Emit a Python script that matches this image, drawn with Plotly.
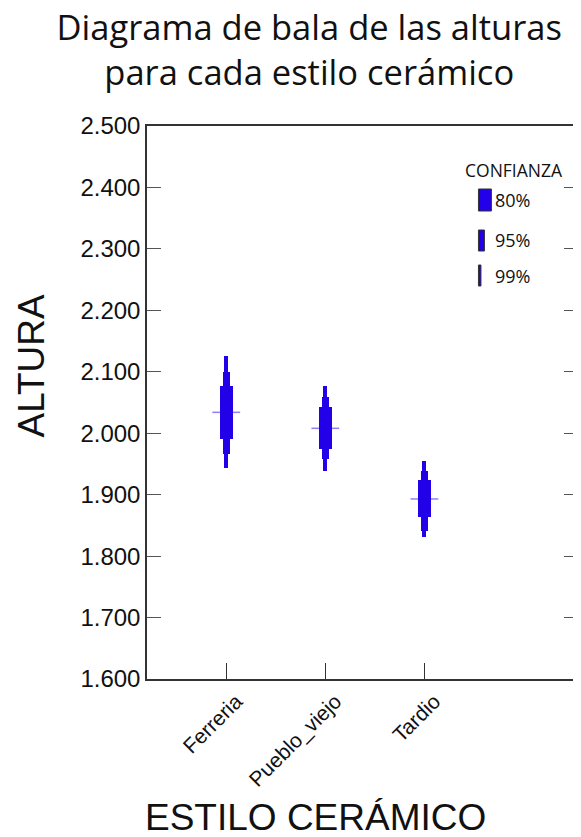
import plotly.graph_objects as go

# ---- data ----
styles = ["Ferreria", "Pueblo_viejo", "Tardio"]
means = [2.034, 2.008, 1.893]
ci80_low = [1.990, 1.975, 1.863]
ci80_high = [2.077, 2.042, 1.924]
ci95_low = [1.967, 1.958, 1.841]
ci95_high = [2.100, 2.059, 1.939]
ci99_low = [1.944, 1.939, 1.831]
ci99_high = [2.125, 2.077, 1.955]
conf_levels = ["80%", "95%", "99%"]
y_ticks = [1.6, 1.7, 1.8, 1.9, 2.0, 2.1, 2.2, 2.3, 2.4, 2.5]
y_ticklabels = ["1.600", "1.700", "1.800", "1.900", "2.000", "2.100", "2.200", "2.300", "2.400", "2.500"]

BLUE = "#2200E8"
xs = list(range(len(styles)))

fig = go.Figure()
for lo, hi, w in [(ci99_low, ci99_high, 0.04), (ci95_low, ci95_high, 0.075), (ci80_low, ci80_high, 0.135)]:
    fig.add_trace(go.Bar(
        x=xs, base=lo, y=[h - l for h, l in zip(hi, lo)], width=w,
        marker=dict(color=BLUE, line=dict(width=0)), showlegend=False, hoverinfo="skip"))

for i, m in enumerate(means):
    fig.add_trace(go.Scatter(x=[i - 0.14, i + 0.14], y=[m, m], mode="lines",
                             line=dict(color="rgba(34,0,232,0.5)", width=1.5),
                             showlegend=False, hoverinfo="skip"))

# ---- layout geometry (reference pixel positions; page body adds 8px margin) ----
OFF = 8
W, H = 581 - OFF, 837 - OFF
L = 147; R = 580; T = 126; B = 679
def px(x): return (x - L) / (R - L)
def py(y): return (B - y) / (B - T)

def ann(x, y, text, size, family, **kw):
    fig.add_annotation(x=px(x), y=py(y), xref="paper", yref="paper", text=text,
                       showarrow=False, xanchor=kw.pop("xanchor", "center"), yanchor="middle",
                       borderpad=0, font=dict(family=family, size=size, color="#111"), **kw)

# ---- legend (drawn) ----
ann(516, 170, "CONFIANZA", 17.5, "Open Sans")
leg_boxes = [(480, 493, 189, 211), (480, 486, 230, 251), (480, 482.5, 265, 286)]
for (x0, x1, y0, y1), lab in zip(leg_boxes, conf_levels):
    fig.add_shape(type="rect", xref="paper", yref="paper", x0=px(x0), x1=px(x1), y0=py(y1), y1=py(y0),
                  fillcolor=BLUE, line=dict(color="#333", width=1))
    ann(496, (y0 + y1) / 2, lab, 18, "Open Sans", xanchor="left")

# ---- titles ----
ann(30, 366, "ALTURA", 37, "Liberation Sans", textangle=-90)
ann(316, 817, "ESTILO CERÁMICO", 37, "Liberation Sans")

fig.update_layout(
    title=dict(text="Diagrama de bala de las alturas<br>para cada estilo cerámico",
               font=dict(family="Open Sans", size=34.5, color="#111"),
               xref="paper", x=px(310), xanchor="center",
               yref="container", y=1 - (40 - OFF) / H, yanchor="middle"),
    width=W, height=H,
    margin=dict(l=L - OFF, r=W - (R - OFF), t=T - OFF, b=H - (B - OFF), pad=0),
    paper_bgcolor="white", plot_bgcolor="white", barmode="overlay", bargap=0,
    xaxis=dict(range=[-0.8, 3.55], tickvals=xs, ticktext=styles, tickangle=-45,
               ticks="inside", ticklen=16, tickcolor="#333", showline=True, linecolor="#333",
               linewidth=1.5, mirror=True, showgrid=False, zeroline=False, ticklabelshift=10,
               tickfont=dict(family="Liberation Sans", size=21, color="#111")),
    yaxis=dict(range=[1.6, 2.5], tickvals=y_ticks, ticktext=y_ticklabels,
               ticks="inside", ticklen=14, tickcolor="#555", showline=True, linecolor="#333",
               linewidth=1.5, mirror="ticks", showgrid=False, zeroline=False,
               tickfont=dict(family="Liberation Sans", size=24, color="#111")),
)
fig.write_html("out.html")
